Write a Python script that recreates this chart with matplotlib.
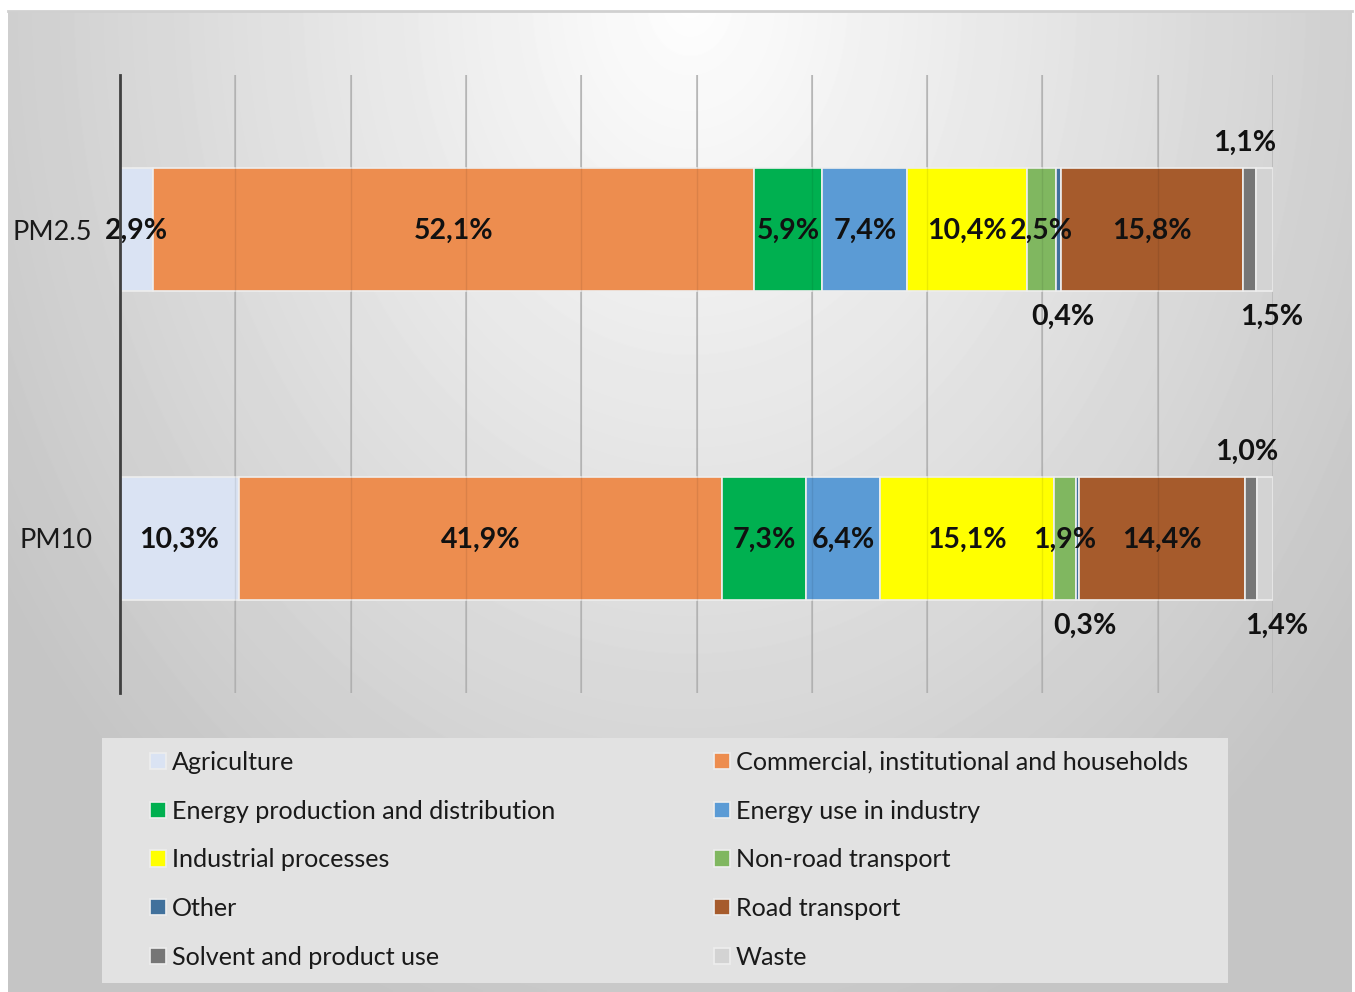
import matplotlib.pyplot as plt
import numpy as np
from matplotlib.patches import Rectangle

plt.rcParams['font.family'] = ['Lato', 'DejaVu Sans']

# data (% share of emissions by sector)
pollutants = ['PM10', 'PM2.5']
sectors = ['Agriculture', 'Commercial, institutional and households',
           'Energy production and distribution', 'Energy use in industry',
           'Industrial processes', 'Non-road transport', 'Other',
           'Road transport', 'Solvent and product use', 'Waste']
pm25 = [2.9, 52.1, 5.9, 7.4, 10.4, 2.5, 0.4, 15.8, 1.1, 1.5]
pm10 = [10.3, 41.9, 7.3, 6.4, 15.1, 1.9, 0.3, 14.4, 1.0, 1.4]

colors = ['#dae3f3', '#ed8d4f', '#00b050', '#5b9bd5', '#ffff00',
          '#80b760', '#41719c', '#a65b2c', '#767676', '#d3d3d3']

# where small labels go (outside the bar) and a little horizontal nudge
label_place = {'Other': 'below', 'Solvent and product use': 'above', 'Waste': 'below'}
nudge = {'PM2.5': {'Other': 0.4, 'Solvent and product use': -0.4, 'Waste': 0.6},
         'PM10': {'Other': 0.65, 'Solvent and product use': -0.35, 'Waste': 1.0}}

W, H = 1355, 992
fig = plt.figure(figsize=(W / 100, H / 100), dpi=100)
fig.patch.set_facecolor('white')

# gradient background of the chart area
bg = fig.add_axes([8 / W, 0, 1344 / W, 981 / H])
bg.set_axis_off()
xx, yy = np.meshgrid(np.arange(8, 1352), np.arange(11, 992))
r = np.sqrt(((xx - 690) / 690.0) ** 2 + (yy / 900.0) ** 2)
val = (254 - 48 * np.clip(r, 0, 1.2)) / 255.0
bg.imshow(val, cmap='gray', vmin=0, vmax=1, aspect='auto', interpolation='bilinear')
fig.add_artist(plt.Line2D([8 / W, 1352 / W], [1 - 11 / H, 1 - 11 / H],
                          transform=fig.transFigure, color='#d0d0d0', lw=2))

ax = fig.add_axes([120 / W, 1 - 693 / H, (1273 - 120) / W, (693 - 75) / H])
ax.patch.set_visible(False)

data = {'PM2.5': pm25, 'PM10': pm10}
ypos = np.arange(len(pollutants))
bar_h = 0.4
left = np.zeros(len(pollutants))
for i, sec in enumerate(sectors):
    vals = np.array([data[p][i] for p in pollutants])
    ax.barh(ypos, vals, height=bar_h, left=left, color=colors[i],
            edgecolor='#eeeeee', linewidth=1.2, zorder=2, label=sec)
    for j, p in enumerate(pollutants):
        cx = left[j] + vals[j] / 2
        place = label_place.get(sec, 'in')
        txt = ('%.1f%%' % vals[j]).replace('.', ',')
        if place == 'in':
            cy = ypos[j] - 0.006
        else:
            cx += nudge[p].get(sec, 0)
            cy = ypos[j] + (bar_h / 2 + 0.082) * (1 if place == 'above' else -1)
        ax.text(cx, cy, txt, ha='center', va='center', fontsize=20.5,
                fontweight='bold', color='#111111', zorder=4)
    left += vals

ax.set_xlim(0, 100)
ax.set_ylim(-0.5, 1.5)
ax.set_xticks(np.arange(0, 101, 10))
ax.tick_params(axis='x', length=0, labelbottom=False)
ax.tick_params(axis='y', length=0, pad=20)
ax.set_yticks(ypos)
ax.set_yticklabels(pollutants, fontsize=19.5, color='#1a1a1a')
for s in ['top', 'right', 'bottom']:
    ax.spines[s].set_visible(False)
ax.spines['left'].set_color('#404040')
ax.spines['left'].set_linewidth(2)
ax.spines['left'].set_zorder(5)
ax.grid(axis='x', color='#bdbdbd', linewidth=1.2, zorder=0)
for t in ax.get_xticks()[1:]:
    ax.axvline(t, color='black', alpha=0.08, linewidth=1, zorder=3)

# legend box and two columns of entries
fig.add_artist(Rectangle((102 / W, 1 - 983 / H), (1228 - 102) / W, (983 - 738) / H,
                         transform=fig.transFigure, facecolor='#e2e2e2',
                         edgecolor='none', zorder=1))
handles, labels = ax.get_legend_handles_labels()
leg_kw = dict(loc='upper left', frameon=False, fontsize=18.1, borderpad=0,
              handlelength=0.62, handleheight=0.62, handletextpad=0.25,
              labelspacing=1.02, labelcolor='#1a1a1a', borderaxespad=0)
fig.legend(handles[0::2], labels[0::2], bbox_to_anchor=(150 / W, 1 - 751 / H), **leg_kw)
fig.legend(handles[1::2], labels[1::2], bbox_to_anchor=(714 / W, 1 - 751 / H), **leg_kw)

fig.savefig('out.png', dpi=100)
